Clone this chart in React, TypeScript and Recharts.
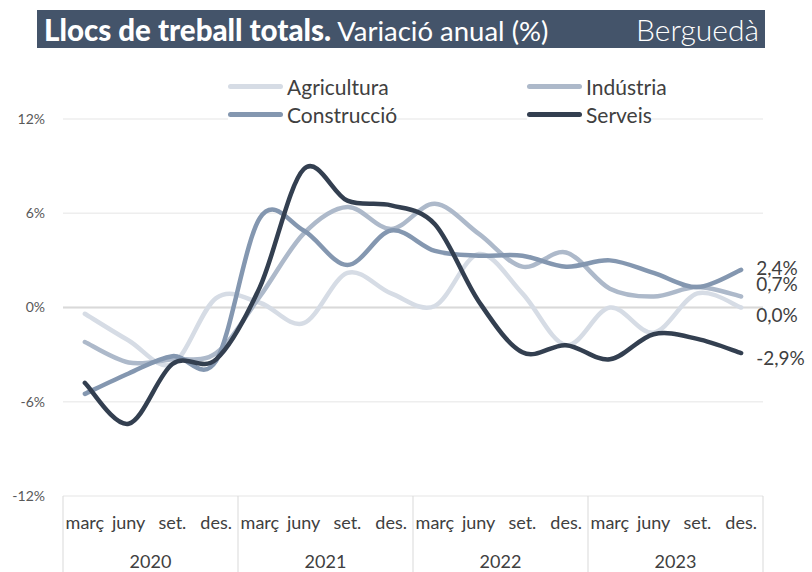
import React from 'react';
import { LineChart, Line, XAxis, YAxis, CartesianGrid, ReferenceLine } from 'recharts';

const quarters = ['març', 'juny', 'set.', 'des.'];
const years = ['2020', '2021', '2022', '2023'];
const agricultura = [-0.4, -2.1, -3.6, 0.6, 0.3, -1.0, 2.2, 0.9, 0.1, 3.4, 0.9, -2.4, 0.0, -1.6, 0.9, 0.0];
const industria = [-2.2, -3.5, -3.3, -2.9, 0.7, 4.7, 6.4, 5.0, 6.6, 4.7, 2.6, 3.5, 1.2, 0.7, 1.3, 0.7];
const construccio = [-5.5, -4.2, -3.1, -3.4, 5.7, 4.9, 2.7, 4.9, 3.6, 3.3, 3.3, 2.6, 3.0, 2.2, 1.3, 2.4];
const serveis = [-4.8, -7.4, -3.6, -3.3, 1.3, 8.8, 6.8, 6.5, 5.3, 0.4, -2.85, -2.4, -3.3, -1.7, -2.0, -2.9];
const yTicks = [-12, -6, 0, 6, 12];

const data = years.flatMap((yr, yi) =>
  quarters.map((q, qi) => {
    const i = yi * 4 + qi;
    return {
      key: `${yr}-${q}`,
      year: yr,
      quarter: q,
      agricultura: agricultura[i],
      industria: industria[i],
      construccio: construccio[i],
      serveis: serveis[i],
    };
  })
);

const series = [
  { key: 'agricultura', name: 'Agricultura', color: '#d6dce5', dy: 7 },
  { key: 'industria', name: 'Indústria', color: '#adb9ca', dy: -13 },
  { key: 'construccio', name: 'Construcció', color: '#8497b0', dy: -2 },
  { key: 'serveis', name: 'Serveis', color: '#333f50', dy: 4 },
];

function catmullRom(context: any) {
  let pts: [number, number][] = [];
  return {
    areaStart() {},
    areaEnd() {},
    lineStart() {
      pts = [];
    },
    lineEnd() {
      const n = pts.length;
      if (!n) return;
      context.moveTo(pts[0][0], pts[0][1]);
      for (let i = 0; i < n - 1; i++) {
        const p0 = pts[i - 1] || pts[i];
        const p1 = pts[i];
        const p2 = pts[i + 1];
        const p3 = pts[i + 2] || p2;
        context.bezierCurveTo(
          p1[0] + (p2[0] - p0[0]) / 6,
          p1[1] + (p2[1] - p0[1]) / 6,
          p2[0] - (p3[0] - p1[0]) / 6,
          p2[1] - (p3[1] - p1[1]) / 6,
          p2[0],
          p2[1]
        );
      }
    },
    point(x: number, y: number) {
      pts.push([+x, +y]);
    },
  };
}

const fmt = (v: number) => `${v.toFixed(1).replace('.', ',')}%`;

const PLOT_W = 700;
const BAND = PLOT_W / 16;

const XTick = (props: any) => {
  const { x, y, payload, index } = props;
  const n = data.length;
  const band = BAND;
  const d = data[index] || data.find((r) => r.key === payload.value);
  const top = y - 8;
  return (
    <g>
      <text x={x} y={top + 26} textAnchor="middle" dominantBaseline="central" fontSize={18} fill="#404040" fontFamily="Lato, sans-serif">
        {d ? d.quarter : ''}
      </text>
      {index % 4 === 0 && (
        <>
          <line x1={x - band / 2} x2={x - band / 2} y1={top} y2={top + 80} stroke="#d9d9d9" strokeWidth={1} />
          <text x={x + band * 1.5} y={top + 65} textAnchor="middle" dominantBaseline="central" fontSize={18} fill="#404040" fontFamily="Lato, sans-serif">
            {d ? d.year : ''}
          </text>
        </>
      )}
      {index === n - 1 && (
        <line x1={x + band / 2} x2={x + band / 2} y1={top} y2={top + 80} stroke="#d9d9d9" strokeWidth={1} />
      )}
    </g>
  );
};

const makeEndLabel = (dy: number) => (props: any) => {
  const { x, y, index, value } = props;
  if (index !== data.length - 1) return null;
  return (
    <text x={x + 15} y={y + dy} dominantBaseline="central" fontSize={19} fill="#404040" fontFamily="Lato, sans-serif">
      {fmt(Number(value))}
    </text>
  );
};

const legendRows = [
  [series[0], series[1]],
  [series[2], series[3]],
];

export default function App() {
  return (
    <div style={{ position: 'absolute', left: 0, top: 0, width: 812, height: 572, background: '#fff', overflow: 'hidden', fontFamily: 'Lato, sans-serif' }}>
      <div style={{ position: 'absolute', left: 0, top: 0 }}>
        <LineChart width={812} height={572} data={data} margin={{ top: 119, right: 49, bottom: 0, left: 0 }}>
          <CartesianGrid vertical={false} stroke="#eeeeee" strokeWidth={1.5} />
          <XAxis
            dataKey="key"
            height={76}
            axisLine={false}
            tickLine={false}
            interval={0}
            padding={{ left: BAND / 2, right: BAND / 2 }}
            tick={<XTick />}
          />
          <YAxis
            domain={[-12, 12]}
            ticks={yTicks}
            width={63}
            axisLine={false}
            tickLine={false}
            tickMargin={12}
            tickFormatter={(v: number) => `${v}%`}
            tick={{ fontSize: 14, fill: '#595959', fontFamily: 'Lato, sans-serif' }}
          />
          <ReferenceLine y={0} stroke="#d9d9d9" strokeWidth={2} />
          {series.map((s) => (
            <Line
              key={s.key}
              dataKey={s.key}
              name={s.name}
              type={catmullRom as any}
              stroke={s.color}
              strokeWidth={4.5}
              strokeLinecap="round"
              dot={false}
              activeDot={false}
              isAnimationActive={false}
              label={makeEndLabel(s.dy)}
            />
          ))}
        </LineChart>
      </div>
      <div
        style={{
          position: 'absolute',
          left: 37,
          top: 10,
          width: 728,
          height: 38,
          background: '#44546a',
          color: '#fff',
          display: 'flex',
          alignItems: 'center',
          justifyContent: 'space-between',
          boxSizing: 'border-box',
          padding: '0 6px 0 7px',
          whiteSpace: 'nowrap',
        }}
      >
        <span>
          <span style={{ fontWeight: 900, fontSize: 29.5 }}>Llocs de treball totals.</span>
          <span style={{ fontWeight: 400, fontSize: 27.5 }}> Variació anual (%)</span>
        </span>
        <span style={{ fontWeight: 300, fontSize: 30 }}>Berguedà</span>
      </div>
      {legendRows.map((row, ri) => (
        <React.Fragment key={ri}>
          {row.map((s, ci) => (
            <div
              key={s.key}
              style={{
                position: 'absolute',
                left: ci === 0 ? 228 : 527,
                top: ri === 0 ? 74 : 102,
                height: 24,
                display: 'flex',
                alignItems: 'center',
                fontSize: 21,
                color: '#404040',
                whiteSpace: 'nowrap',
                background: '#fff',
              }}
            >
              <span style={{ display: 'inline-block', width: 55, height: 5, borderRadius: 3, background: s.color, marginRight: 4 }} />
              <span>{s.name}</span>
            </div>
          ))}
        </React.Fragment>
      ))}
    </div>
  );
}
